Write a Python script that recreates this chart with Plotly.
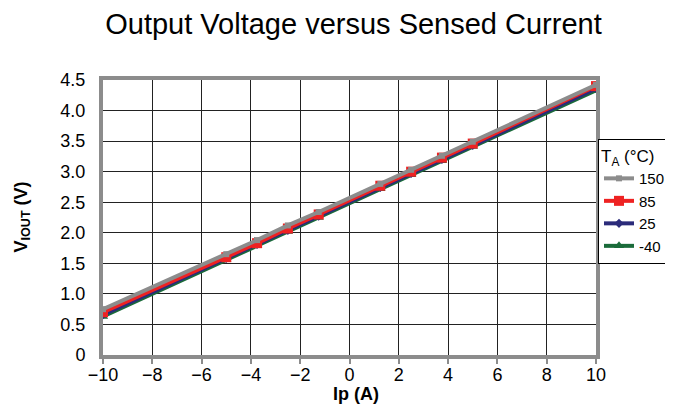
import plotly.graph_objects as go

current = [-10, -5, -3.75, -2.5, -1.25, 1.25, 2.5, 3.75, 5, 10]
v_150 = [0.75, 1.65, 1.88, 2.12, 2.34, 2.80, 3.03, 3.26, 3.49, 4.42]
v_85 = [0.70, 1.60, 1.83, 2.07, 2.30, 2.77, 3.00, 3.23, 3.46, 4.40]
v_25 = [0.66, 1.58, 1.81, 2.04, 2.27, 2.74, 2.97, 3.20, 3.43, 4.36]
v_m40 = [0.63, 1.56, 1.79, 2.02, 2.25, 2.72, 2.95, 3.18, 3.41, 4.33]

x_ticks = [-10, -8, -6, -4, -2, 0, 2, 4, 6, 8, 10]
y_ticks = [0, 0.5, 1.0, 1.5, 2.0, 2.5, 3.0, 3.5, 4.0, 4.5]
y_ticktext = ["0", "0.5", "1.0", "1.5", "2.0", "2.5", "3.0", "3.5", "4.0", "4.5"]

series = [
    ("-40", v_m40, "#1a6b3a", "triangle-up", 9),
    ("25", v_25, "#2b2b7a", "diamond", 7),
    ("85", v_85, "#ee2222", "square", 10),
    ("150", v_150, "#8c8c8c", "square", 6),
]

fig = go.Figure()
for name, vals, color, sym, size in series:
    fig.add_trace(go.Scatter(
        x=current, y=vals, name=name, mode="lines+markers",
        line=dict(color=color, width=4),
        marker=dict(color=color, symbol=sym, size=size),
    ))

# page body has an 8px margin, so figure is 8px smaller and shifted
W, H = 665, 397
L, R, T, B = 95, 77, 72, 50
PW, PH = W - L - R, H - T - B

font_family = "Liberation Sans, Arial, sans-serif"
fig.update_layout(
    width=W, height=H,
    margin=dict(l=L, r=R, t=T, b=B, autoexpand=False),
    paper_bgcolor="white", plot_bgcolor="white",
    font=dict(family=font_family, color="black", size=18),
    title=dict(text="Output Voltage versus Sensed Current",
               x=(345.5 - L) / PW, xref="paper",
               y=1 - 16 / H, yref="container", xanchor="center", yanchor="middle",
               font=dict(size=29, family=font_family, color="black")),
    legend=dict(
        title=dict(text="T<sub>A</sub> (°C)", font=dict(size=17)),
        x=(590 - L) / PW, y=(T + PH - 131) / PH, xanchor="left", yanchor="top",
        bordercolor="black", borderwidth=1, bgcolor="white",
        traceorder="reversed", font=dict(size=15),
        itemwidth=30, tracegroupgap=0,
    ),
    showlegend=True,
)
fig.update_xaxes(
    range=[-10, 10], tickvals=x_ticks, showgrid=True, gridcolor="#222222", gridwidth=1,
    showline=True, linecolor="#8c8c8c", linewidth=4, mirror=True,
    ticks="outside", ticklen=5, tickcolor="#8c8c8c", tickwidth=2,
    zeroline=False, tickfont=dict(size=18), automargin=False,
    ticklabelstandoff=-5,
)
fig.update_yaxes(
    range=[0, 4.5], tickvals=y_ticks, ticktext=y_ticktext, showgrid=True,
    gridcolor="#222222", gridwidth=1,
    showline=True, linecolor="#8c8c8c", linewidth=4, mirror=True,
    ticks="", zeroline=False, tickfont=dict(size=18), automargin=False,
    ticklabelstandoff=10,
)
fig.add_annotation(
    text="<b>V<sub>IOUT</sub> (V)</b>", xref="paper", yref="paper",
    x=(14 - L) / PW, y=0.5, xanchor="center", yanchor="middle",
    textangle=-90, showarrow=False, font=dict(size=18),
)
fig.add_annotation(
    text="<b>Ip (A)</b>", xref="paper", yref="paper",
    x=(348 - L) / PW, y=(T + PH - 386) / PH, xanchor="center", yanchor="middle",
    showarrow=False, font=dict(size=18),
)

fig.write_html("out.html")
